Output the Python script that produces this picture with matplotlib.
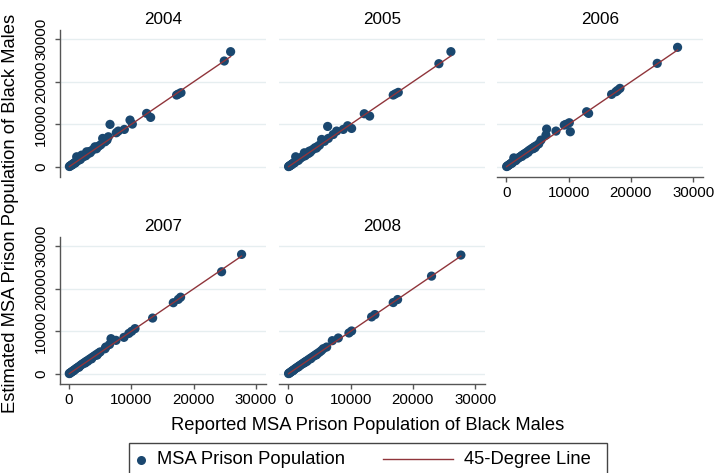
import matplotlib
matplotlib.use("Agg")
import matplotlib.pyplot as plt
from matplotlib.patches import Rectangle
from matplotlib.lines import Line2D

plt.rcParams['font.family'] = ['Liberation Sans', 'DejaVu Sans']

years = ["2004", "2005", "2006", "2007", "2008"]

# Reported vs. estimated MSA prison population of Black males, by year
reported_2004 = [25940, 24920, 17970, 17540, 17270, 13100, 12460, 10160, 9790, 8880,
                 7910, 7590, 6580, 6310, 5400, 5780, 6100, 4170, 3900, 3600,
                 3300, 3000, 2830, 2600, 2400, 2030, 2200, 1900, 1700, 1500,
                 1230, 1300, 1100, 950, 800, 650, 500, 380, 250, 150,
                 60, 4500, 4800, 5100, 3400, 2700, 1800, 1000, 600, 4400, 3100]
estimated_2004 = [27100, 24900, 17440, 17120, 16890, 11630, 12570, 10050, 11000, 8800,
                  8410, 8010, 9980, 7070, 6680, 5890, 6300, 4710, 4100, 3750,
                  3600, 3200, 3530, 2750, 2500, 2750, 2300, 2000, 1800, 1550,
                  2360, 1350, 1150, 1000, 850, 700, 520, 400, 270, 160,
                  70, 4600, 4900, 5200, 3300, 2600, 1700, 900, 550, 4250, 3140]

reported_2005 = [26100, 24170, 17650, 17220, 16840, 13050, 12190, 10160, 9520, 8820,
                 7750, 6310, 6420, 5350, 5800, 7200, 4300, 4000, 3700, 3370,
                 3100, 2800, 2570, 2350, 2100, 1900, 1700, 1500, 1180, 1300,
                 1050, 900, 750, 600, 450, 320, 200, 100, 40, 4700,
                 5000, 3500, 2700, 1600, 1000, 500, 4500, 3200]
estimated_2005 = [27100, 24270, 17520, 17200, 16890, 11940, 12490, 9030, 9660, 8800,
                  8410, 9500, 6680, 6440, 6000, 7600, 4500, 4150, 3800, 3690,
                  3250, 2950, 3300, 2450, 2200, 2000, 1800, 1600, 2360, 1400,
                  1100, 950, 800, 640, 480, 340, 220, 110, 50, 4800,
                  5100, 3400, 2600, 1500, 950, 450, 4400, 3100]

reported_2006 = [27490, 24220, 18240, 17860, 17590, 16900, 13210, 12890, 10270, 10110,
                 9300, 9600, 7970, 6470, 6360, 5560, 5200, 4800, 4500, 4200,
                 3900, 3600, 3300, 3000, 2800, 2600, 2400, 2200, 2000, 1800,
                 1600, 1400, 1200, 1000, 850, 700, 550, 400, 270, 150,
                 50, 4300, 3500, 2500, 1500, 900, 4600, 3100]
estimated_2006 = [28120, 24350, 18460, 17990, 17670, 17050, 12570, 12960, 8250, 10370,
                  9820, 10000, 8410, 8880, 7460, 6280, 5400, 4950, 4700, 4400,
                  4100, 3800, 3450, 3150, 2950, 2750, 2550, 2300, 2150, 1900,
                  1700, 1500, 2100, 1050, 900, 740, 580, 420, 290, 160,
                  60, 4250, 3400, 2450, 1450, 850, 4500, 3000]

reported_2007 = [27700, 24490, 17910, 17540, 16740, 13420, 10590, 10050, 9600, 8820,
                 7540, 6740, 6500, 5780, 5900, 5000, 4700, 4400, 4100, 3800,
                 3500, 3200, 2900, 2700, 2500, 2300, 2100, 1900, 1700, 1500,
                 1300, 1100, 950, 800, 650, 500, 360, 230, 120, 40,
                 4500, 3600, 2600, 1600, 700, 3000]
estimated_2007 = [28110, 24020, 18030, 17520, 16730, 13120, 10630, 10000, 9500, 8580,
                  7870, 8270, 6900, 5900, 6300, 5150, 4850, 4550, 4250, 3950,
                  3650, 3350, 3050, 2850, 2650, 2450, 2250, 2050, 1800, 1600,
                  1400, 1200, 1000, 850, 700, 540, 390, 250, 130, 50,
                  4400, 3500, 2550, 1550, 680, 2950]

reported_2008 = [27700, 22990, 17540, 16840, 13900, 13370, 10160, 9730, 8020, 7060,
                 6150, 5610, 5000, 4700, 4400, 4100, 3800, 3500, 3200, 2900,
                 2700, 2500, 2300, 2100, 1900, 1700, 1500, 1300, 1100, 950,
                 800, 650, 500, 360, 230, 120, 40, 4500, 3600, 2600,
                 1600, 700, 3000, 5300]
estimated_2008 = [27950, 22990, 17480, 16770, 13940, 13390, 10080, 9610, 8430, 7800,
                  6300, 5910, 5100, 4800, 4500, 4200, 3900, 3600, 3300, 3000,
                  2800, 2600, 2400, 2200, 2000, 1800, 1600, 1400, 1200, 1000,
                  850, 700, 540, 390, 250, 130, 50, 4450, 3550, 2600,
                  1600, 700, 2950, 5450]

reported = [reported_2004, reported_2005, reported_2006, reported_2007, reported_2008]
estimated = [estimated_2004, estimated_2005, estimated_2006, estimated_2007, estimated_2008]

x_ticks = [0, 10000, 20000, 30000]
y_ticks = [0, 10000, 20000, 30000]

navy = "#1a476f"
maroon = "#90353b"
grid_col = "#e6eef0"
axis_col = "#555555"

W, H = 715, 473
fig = plt.figure(figsize=(W / 100, H / 100), dpi=100)
fig.patch.set_facecolor("white")


def px_axes(left, top, right, bottom):
    return fig.add_axes([left / W, 1 - bottom / H, (right - left) / W, (bottom - top) / H])


panel_w = 205.5
lefts = [60, 279.3, 497.3]
rows = [(30, 176.7), (237, 383.7)]

for i, yr in enumerate(years):
    r, c = divmod(i, 3)
    top, bottom = rows[r]
    ax = px_axes(lefts[c], top, lefts[c] + panel_w, bottom)
    ax.set_xlim(-1450, 31540)
    ax.set_ylim(-2330, 32200)
    ax.set_facecolor("white")

    xs = reported[i]
    ys = estimated[i]
    ax.scatter(xs, ys, s=44, color=navy, edgecolors="none", zorder=3)
    lo, hi = min(xs), max(xs)
    ax.plot([lo, hi], [lo, hi], color=maroon, lw=1.0, zorder=4)

    ax.set_yticks(y_ticks)
    ax.set_xticks(x_ticks)
    ax.yaxis.grid(True, color=grid_col, lw=1.0, zorder=0)
    ax.xaxis.grid(False)
    ax.set_axisbelow(True)

    for s in ["top", "right"]:
        ax.spines[s].set_visible(False)
    show_y = (c == 0)
    show_x = (i >= 2)
    ax.spines["left"].set_visible(show_y)
    ax.spines["bottom"].set_visible(show_x)
    ax.spines["left"].set_color(axis_col)
    ax.spines["bottom"].set_color(axis_col)
    ax.spines["left"].set_linewidth(1.0)
    ax.spines["bottom"].set_linewidth(1.0)

    ax.tick_params(axis="y", length=3.6 if show_y else 0, width=1.0, color=axis_col,
                   labelleft=show_y, labelsize=10.8, pad=5)
    ax.tick_params(axis="x", length=3.6 if show_x else 0, width=1.0, color=axis_col,
                   labelbottom=show_x, labelsize=10.8, pad=3)
    for lab in ax.get_yticklabels():
        lab.set_rotation(90)
        lab.set_rotation_mode("default")
        lab.set_va("center")
        lab.set_ha("right")
    ax.set_title(yr, fontsize=12.3, pad=4.5)

# Axis titles
fig.text(11 / W, 1 - 213 / H, "Estimated MSA Prison Population of Black Males",
         rotation=90, ha="center", va="center", fontsize=13.2)
fig.text(368 / W, 1 - 425 / H, "Reported MSA Prison Population of Black Males",
         ha="center", va="center", fontsize=13.2)

# Legend box
box = Rectangle((129.3 / W, 1 - 485 / H), (606.7 - 129.3) / W, (485 - 442.7) / H,
                transform=fig.transFigure, facecolor="white", edgecolor="#444444",
                lw=1.0, clip_on=False)
fig.add_artist(box)
fig.add_artist(Line2D([140.7 / W], [1 - 459.5 / H], transform=fig.transFigure,
                      marker="o", markersize=6.5, color=navy, markeredgewidth=0, ls="none"))
fig.text(156.7 / W, 1 - 459.5 / H, "MSA Prison Population", ha="left", va="center",
         fontsize=13.2)
fig.add_artist(Line2D([383.3 / W, 452.7 / W], [1 - 458.5 / H, 1 - 458.5 / H],
                      transform=fig.transFigure, color=maroon, lw=1.0))
fig.text(464 / W, 1 - 459.5 / H, "45-Degree Line", ha="left", va="center", fontsize=13.2)

fig.savefig("out.png", dpi=100, facecolor="white")
